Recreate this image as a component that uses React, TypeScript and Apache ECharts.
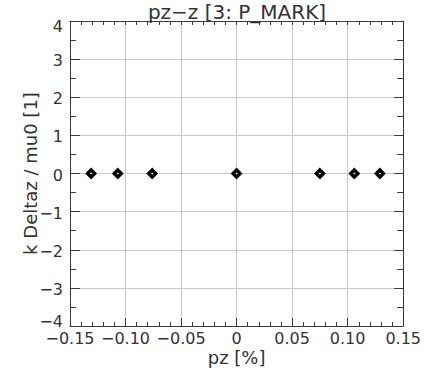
import React, { useEffect, useRef } from "react";
import * as echarts from "echarts";

const titleText = "pz\u2212z [3: P_MARK]";
const xName = "pz [%]";
const yName = "k Deltaz / mu0 [1]";
const pzValues = [-0.131, -0.107, -0.076, 0.0, 0.075, 0.106, 0.129];
const deltaValues = [0, 0, 0, 0, 0, 0, 0];
const xMin = -0.15;
const xMax = 0.15;
const yMin = -4;
const yMax = 4;

const FONT = "DejaVu Sans";
const AXIS_COLOR = "#3a3a3a";
const TEXT_COLOR = "#333333";
const GRID_COLOR = "#c8c8c8";

function fmtX(v: number): string {
  if (Math.abs(v) < 1e-9) return "0";
  const s = Math.abs(v).toFixed(2);
  return (v < 0 ? "\u2212" : "") + s;
}
function fmtY(v: number): string {
  const txt = Math.abs(v) < 1e-9 ? "0" : (v < 0 ? "\u2212" : "") + String(Math.abs(v));
  if (v >= yMax) return "{top|" + txt + "}";
  if (v <= yMin) return "{bot|" + txt + "}";
  return "{mid|" + txt + "}";
}

export default function App() {
  const ref = useRef<HTMLDivElement>(null);
  useEffect(() => {
    if (!ref.current) return;
    const chart = echarts.init(ref.current, undefined, { renderer: "svg" });
    const common = {
      axisLine: { show: true, onZero: false, lineStyle: { color: AXIS_COLOR, width: 1 } },
    };
    const labelRich = {
      mid: { fontFamily: FONT, fontSize: 16, color: TEXT_COLOR, padding: [3, 0, 0, 0] },
      top: { fontFamily: FONT, fontSize: 16, color: TEXT_COLOR, padding: [11, 0, 0, 0] },
      bot: { fontFamily: FONT, fontSize: 16, color: TEXT_COLOR, padding: [0, 0, 9, 0] },
    };
    chart.setOption({
      animation: false,
      backgroundColor: "#ffffff",
      title: {
        text: titleText,
        left: 237,
        top: 2,
        padding: 0,
        textAlign: "center",
        textStyle: { fontFamily: FONT, fontSize: 20, fontWeight: "normal", color: TEXT_COLOR },
      },
      grid: { left: 70, top: 21, width: 336, height: 305, containLabel: false },
      xAxis: [
        {
          type: "value",
          position: "bottom",
          min: xMin,
          max: xMax,
          interval: 0.05,
          ...common,
          axisTick: { show: true, inside: true, length: 8, lineStyle: { color: AXIS_COLOR } },
          minorTick: { show: true, splitNumber: 5, length: 4, lineStyle: { color: AXIS_COLOR } },
          splitLine: { show: true, lineStyle: { color: GRID_COLOR, width: 1 } },
          axisLabel: {
            formatter: fmtX,
            fontFamily: FONT,
            fontSize: 16,
            color: TEXT_COLOR,
            margin: 4,
          },
          name: xName,
          nameLocation: "middle",
          nameGap: 22,
          nameMoveOverlap: false,
          nameTextStyle: { fontFamily: FONT, fontSize: 18, color: TEXT_COLOR, verticalAlign: "top" },
        },
        {
          type: "value",
          position: "top",
          min: xMin,
          max: xMax,
          interval: 0.05,
          ...common,
          axisTick: { show: true, inside: true, length: 4, lineStyle: { color: AXIS_COLOR } },
          minorTick: { show: true, splitNumber: 5, length: 4, lineStyle: { color: AXIS_COLOR } },
          splitLine: { show: false },
          axisLabel: { show: false },
        },
      ],
      yAxis: [
        {
          type: "value",
          position: "left",
          min: yMin,
          max: yMax,
          interval: 1,
          ...common,
          axisTick: { show: true, inside: true, length: 10, lineStyle: { color: AXIS_COLOR } },
          minorTick: { show: true, splitNumber: 2, length: 6, lineStyle: { color: AXIS_COLOR } },
          splitLine: { show: true, lineStyle: { color: GRID_COLOR, width: 1 } },
          axisLabel: {
            formatter: fmtY,
            rich: labelRich,
            fontFamily: FONT,
            fontSize: 16,
            color: TEXT_COLOR,
            margin: 7,
          },
          name: yName,
          nameLocation: "middle",
          nameGap: 40,
          nameRotate: 90,
          nameMoveOverlap: false,
          nameTextStyle: { fontFamily: FONT, fontSize: 18, color: TEXT_COLOR, verticalAlign: "middle" },
        },
        {
          type: "value",
          position: "right",
          min: yMin,
          max: yMax,
          interval: 1,
          ...common,
          axisTick: { show: true, inside: true, length: 9, lineStyle: { color: AXIS_COLOR } },
          minorTick: { show: true, splitNumber: 2, length: 6, lineStyle: { color: AXIS_COLOR } },
          splitLine: { show: false },
          axisLabel: { show: false },
        },
      ],
      series: [
        {
          type: "scatter",
          xAxisIndex: 0,
          yAxisIndex: 0,
          data: pzValues.map((x, i) => [x, deltaValues[i]]),
          symbol: "diamond",
          symbolSize: 7,
          itemStyle: { color: "#ffffff", borderColor: "#000000", borderWidth: 3.4, opacity: 1 },
          emphasis: { disabled: true },
        },
      ],
    });
    return () => chart.dispose();
  }, []);
  return (
    <div
      ref={ref}
      style={{ position: "fixed", left: 0, top: 0, width: 424, height: 373, background: "#fff" }}
    />
  );
}
